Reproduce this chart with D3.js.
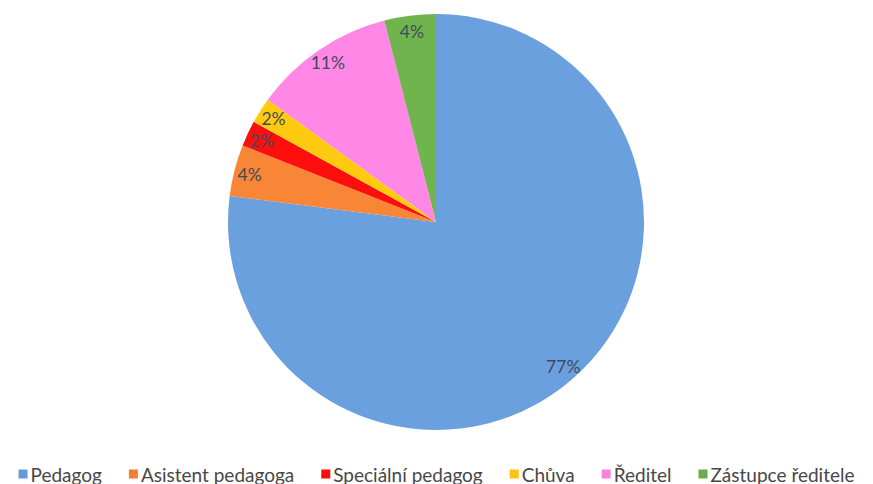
<!DOCTYPE html>
<html>
<head>
<meta charset="utf-8">
<script src="https://cdn.jsdelivr.net/npm/d3@7/dist/d3.min.js"></script>
<style>
  html, body { margin: 0; padding: 0; background: #fff; }
  svg { display: block; }
</style>
</head>
<body>
<svg id="chart" width="873" height="484"></svg>
<script>
// Staff roles and their share of the total (percent)
const categories = ["Pedagog", "Asistent pedagoga", "Speciální pedagog", "Chůva", "Ředitel", "Zástupce ředitele"];
const shares = [77, 4, 2, 2, 11, 4];
const colors = ["#6699d5", "#ef7f35", "#ff0d0d", "#ffc20e", "#fb82dc", "#6aac4a"];

const width = 873, height = 484;
const cx = 436, cy = 222, radius = 208;
const fontFamily = "Lato, 'Open Sans', 'DejaVu Sans', sans-serif";

const svg = d3.select("#chart");
const data = categories.map((c, i) => ({ name: c, value: shares[i], color: colors[i] }));

const pie = d3.pie().value(d => d.value).sort(null);
const arc = d3.arc().innerRadius(0).outerRadius(radius);
const labelArc = d3.arc().innerRadius(radius * 0.925).outerRadius(radius * 0.925);

// soft radial shading, lighter toward the rim
const defs = svg.append("defs");
data.forEach((d, i) => {
  const g = defs.append("radialGradient")
    .attr("id", "grad" + i)
    .attr("gradientUnits", "userSpaceOnUse")
    .attr("cx", cx).attr("cy", cy).attr("r", radius);
  const base = d3.color(d.color);
  g.append("stop").attr("offset", "0%").attr("stop-color", base.darker(0.08).formatHex());
  g.append("stop").attr("offset", "100%").attr("stop-color", base.brighter(0.12).formatHex());
});

const g = svg.append("g").attr("transform", `translate(${cx},${cy})`);
const arcs = pie(data);

g.selectAll("path.slice")
  .data(arcs)
  .join("path")
  .attr("class", "slice")
  .attr("d", arc)
  .attr("fill", (d, i) => `url(#grad${i})`);

g.selectAll("text.pct")
  .data(arcs)
  .join("text")
  .attr("class", "pct")
  .attr("transform", d => `translate(${labelArc.centroid(d)})`)
  .attr("text-anchor", "middle")
  .attr("dominant-baseline", "central")
  .attr("font-family", fontFamily)
  .attr("font-size", 17.5)
  .attr("fill", "#414b5c")
  .text(d => d.data.value + "%");

// Legend row, centred under the pie
const legend = svg.append("g").attr("class", "legend");
const legendY = 474, box = 9, boxGap = 3, itemGap = 27;
const items = legend.selectAll("g.item")
  .data(data)
  .join("g")
  .attr("class", "item");
items.append("rect")
  .attr("width", box).attr("height", box)
  .attr("y", legendY - box / 2)
  .attr("fill", d => d.color);
items.append("text")
  .attr("x", box + boxGap)
  .attr("y", legendY)
  .attr("dominant-baseline", "central")
  .attr("font-family", fontFamily)
  .attr("font-size", 19)
  .attr("fill", "#474747")
  .text(d => d.name);

let x = 0;
const offsets = [];
items.each(function () {
  offsets.push(x);
  const w = d3.select(this).select("text").node().getComputedTextLength();
  x += box + boxGap + w + itemGap;
});
const total = x - itemGap;
const startX = (width - total) / 2;
items.attr("transform", (d, i) => `translate(${startX + offsets[i]},0)`);
</script>
</body>
</html>
